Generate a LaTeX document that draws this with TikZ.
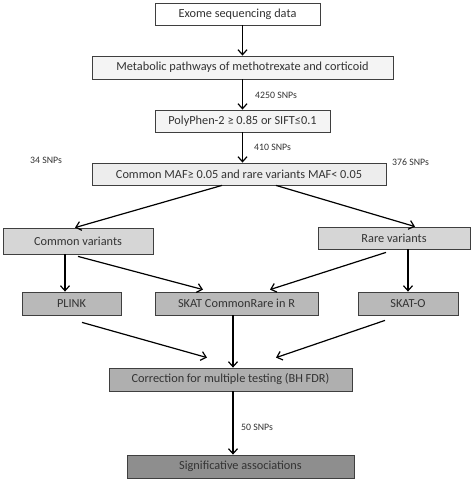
\documentclass[tikz,border=0pt]{standalone}
\usepackage{fontspec}
\setmainfont{Carlito}
\usetikzlibrary{arrows.meta}
\definecolor{edgegray}{HTML}{3F3F3F}
\definecolor{txtgray}{HTML}{333333}
\definecolor{lvlA}{HTML}{F4F4F4}
\definecolor{lvlB}{HTML}{EDEDED}
\definecolor{lvlC}{HTML}{D6D6D6}
\definecolor{lvlD}{HTML}{B9B9B9}
\definecolor{lvlE}{HTML}{AFAFAF}
\definecolor{lvlF}{HTML}{8E8E8E}

\begin{document}
\begin{tikzpicture}[x=1pt,y=-1pt]
      \tikzstyle{box}=[draw=edgegray, line width=0.8pt, inner sep=0pt,
        text=txtgray, font=\fontsize{12.3}{14}\selectfont]
      \tikzstyle{arr}=[line width=1.2pt, -{Straight Barb[length=5pt,width=9pt]}]
      \tikzstyle{snps}=[anchor=west, inner sep=0pt, text=txtgray,
        font=\fontsize{9.8}{11}\selectfont]
      \useasboundingbox (0,0) rectangle (472,480);
      % filtering steps
      \node [box, fill=white, minimum width=165pt, minimum height=22pt] (exome) at (237.5,14) {Exome sequencing data};
      \node [box, fill=lvlA, minimum width=301pt, minimum height=23pt] (metab) at (242.5,67.5) {Metabolic pathways of methotrexate and corticoid};
      \node [box, fill=lvlA, minimum width=175pt, minimum height=22pt] (poly) at (242.5,121) {PolyPhen-2 ≥ 0.85 or SIFT≤0.1};
      \node [box, fill=lvlB, minimum width=294pt, minimum height=22pt] (maf) at (239,174) {Common MAF≥ 0.05 and rare variants MAF< 0.05};
      % variant groups
      \node [box, fill=lvlC, minimum width=150pt, minimum height=26pt] (common) at (78,241) {Common variants};
      \node [box, fill=lvlC, minimum width=152pt, minimum height=22pt] (rare) at (394,238) {Rare variants};
      % tests
      \node [box, fill=lvlD, minimum width=99pt, minimum height=23pt] (plink) at (71.5,303.5) {PLINK};
      \node [box, fill=lvlD, minimum width=163pt, minimum height=23pt] (skat) at (236.5,303.5) {SKAT CommonRare in R};
      \node [box, fill=lvlD, minimum width=100pt, minimum height=23pt] (skato) at (408,303.5) {SKAT-O};
      \node [box, fill=lvlE, minimum width=243pt, minimum height=23pt] (corr) at (230.5,379.5) {Correction for multiple testing (BH FDR)};
      \node [box, fill=lvlF, minimum width=227pt, minimum height=23pt] (sig) at (240.5,466.5) {Significative associations};
      % arrows
      \draw [arr] (exome.south -| metab) -- (metab.north);
      \draw [arr] (metab.south -| poly) -- (poly.north);
      \draw [arr] (poly.south) -- (poly.south |- maf.north);
      \draw [arr] ([xshift=-17pt]maf.south) -- ([xshift=-3pt]common.north);
      \draw [arr] ([xshift=37pt]maf.south) -- ([xshift=21pt]rare.north);
      \draw [arr] ([xshift=-13pt]common.south) -- ([xshift=-13pt]common.south |- plink.north);
      \draw [arr] ([yshift=-2pt]common.south) -- ([xshift=-33.5pt,yshift=2pt]skat.north);
      \draw [arr] ([xshift=-8pt,yshift=-3pt]rare.south) -- ([xshift=33.5pt,yshift=2pt]skat.north);
      \draw [arr] (skato.north |- rare.south) -- (skato.north);
      \draw [arr] ([xshift=10.5pt,yshift=-7pt]plink.south) -- ([xshift=-23.5pt,yshift=10pt]corr.north);
      \draw [arr] ([xshift=-3.5pt]skat.south) -- ([xshift=-3.5pt]skat.south |- corr.north);
      \draw [arr] ([xshift=-23pt,yshift=-5pt]skato.south) -- ([xshift=45.5pt,yshift=10pt]corr.north);
      \draw [arr] ([xshift=2.5pt]corr.south) -- ([xshift=2.5pt]corr.south |- sig.north);
      % SNP counts
      \node [snps] (n4250) at (255,95) {4250 SNPs};
      \node [snps] (n410) at (254,147) {410 SNPs};
      \node [snps] (n34) at (30,160) {34 SNPs};
      \node [snps] (n376) at (392,162) {376 SNPs};
      \node [snps] (n50) at (241,427) {50 SNPs};
\end{tikzpicture}
\end{document}
